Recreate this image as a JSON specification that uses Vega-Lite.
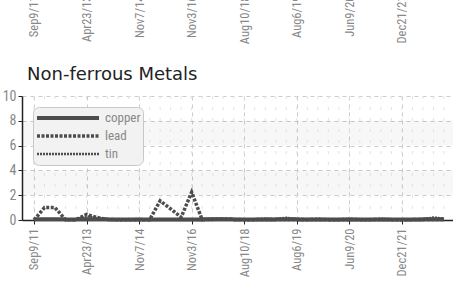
{
  "$schema": "https://vega.github.io/schema/vega-lite/v6.json",
  "padding": {"top": -18, "left": 2, "right": 0, "bottom": 0},
  "background": "white",
  "bounds": "flush",
  "spacing": 109,
  "config": {
    "view": {"stroke": null},
    "axis": {
      "labelFont": "Roboto Condensed, Liberation Sans Narrow, DejaVu Sans Condensed, sans-serif",
      "labelColor": "#888888",
      "labelFontSize": 12.5,
      "labelOverlap": false
    },
    "axisY": {"labelOverlap": false}
  },
  "datasets": {
    "prices": [
      {"date": "Sep9/11", "copper": 0.05, "lead": 0.0, "tin": 0.05},
      {"date": "Dec2/11", "copper": 0.06, "lead": 1.0, "tin": 0.08},
      {"date": "Mar5/12", "copper": 0.06, "lead": 1.0, "tin": 0.07},
      {"date": "Jul16/12", "copper": 0.05, "lead": 0.02, "tin": 0.05},
      {"date": "Nov12/12", "copper": 0.05, "lead": 0.02, "tin": 0.06},
      {"date": "Apr23/13", "copper": 0.07, "lead": 0.45, "tin": 0.3},
      {"date": "Aug5/13", "copper": 0.06, "lead": 0.2, "tin": 0.15},
      {"date": "Dec9/13", "copper": 0.05, "lead": 0.05, "tin": 0.06},
      {"date": "Apr7/14", "copper": 0.05, "lead": 0.02, "tin": 0.05},
      {"date": "Jul21/14", "copper": 0.05, "lead": 0.02, "tin": 0.06},
      {"date": "Nov7/14", "copper": 0.05, "lead": 0.02, "tin": 0.08},
      {"date": "Mar9/15", "copper": 0.05, "lead": 0.02, "tin": 0.05},
      {"date": "Jul20/15", "copper": 0.05, "lead": 1.55, "tin": 0.05},
      {"date": "Dec7/15", "copper": 0.05, "lead": 0.9, "tin": 0.05},
      {"date": "May9/16", "copper": 0.05, "lead": 0.22, "tin": 0.06},
      {"date": "Nov3/16", "copper": 0.05, "lead": 2.25, "tin": 0.05},
      {"date": "Mar20/17", "copper": 0.05, "lead": 0.02, "tin": 0.06},
      {"date": "Aug14/17", "copper": 0.06, "lead": 0.05, "tin": 0.12},
      {"date": "Dec4/17", "copper": 0.06, "lead": 0.08, "tin": 0.08},
      {"date": "Apr16/18", "copper": 0.05, "lead": 0.05, "tin": 0.06},
      {"date": "Aug10/18", "copper": 0.04, "lead": 0.03, "tin": 0.05},
      {"date": "Oct22/18", "copper": 0.04, "lead": 0.03, "tin": 0.06},
      {"date": "Jan7/19", "copper": 0.05, "lead": 0.04, "tin": 0.12},
      {"date": "Mar25/19", "copper": 0.05, "lead": 0.04, "tin": 0.08},
      {"date": "Jun3/19", "copper": 0.06, "lead": 0.05, "tin": 0.18},
      {"date": "Aug6/19", "copper": 0.05, "lead": 0.04, "tin": 0.1},
      {"date": "Oct14/19", "copper": 0.04, "lead": 0.03, "tin": 0.06},
      {"date": "Dec9/19", "copper": 0.05, "lead": 0.04, "tin": 0.1},
      {"date": "Feb10/20", "copper": 0.04, "lead": 0.03, "tin": 0.06},
      {"date": "Apr13/20", "copper": 0.04, "lead": 0.03, "tin": 0.05},
      {"date": "Jun9/20", "copper": 0.05, "lead": 0.04, "tin": 0.1},
      {"date": "Sep14/20", "copper": 0.04, "lead": 0.03, "tin": 0.06},
      {"date": "Dec7/20", "copper": 0.04, "lead": 0.03, "tin": 0.05},
      {"date": "Mar15/21", "copper": 0.05, "lead": 0.04, "tin": 0.1},
      {"date": "Aug16/21", "copper": 0.04, "lead": 0.03, "tin": 0.06},
      {"date": "Dec21/21", "copper": 0.04, "lead": 0.03, "tin": 0.05},
      {"date": "Mar7/22", "copper": 0.04, "lead": 0.03, "tin": 0.06},
      {"date": "May16/22", "copper": 0.05, "lead": 0.04, "tin": 0.08},
      {"date": "Jul18/22", "copper": 0.06, "lead": 0.05, "tin": 0.2},
      {"date": "Sep12/22", "copper": 0.05, "lead": 0.04, "tin": 0.12}
    ],
    "bands": [
      {"lo": 2, "hi": 4},
      {"lo": 6, "hi": 8}
    ]
  },
  "vconcat": [
    {
      "width": 431,
      "height": 1,
      "data": {"name": "prices"},
      "mark": {"type": "line", "color": "#4d4d4d"},
      "encoding": {
        "x": {
          "field": "date", "type": "ordinal", "sort": null,
          "scale": {"type": "point", "padding": 1, "align": 0.57},
          "axis": {
            "title": null, "labelAngle": 270, "domain": false, "ticks": false, "grid": false,
            "labelPadding": 8,
            "values": ["Sep9/11", "Apr23/13", "Nov7/14", "Nov3/16", "Aug10/18", "Aug6/19", "Jun9/20", "Dec21/21"]
          }
        },
        "y": {"field": "copper", "type": "quantitative", "axis": null}
      }
    },
    {
      "width": 431,
      "height": 124,
      "title": {
        "text": "Non-ferrous Metals", "anchor": "start", "frame": "group",
        "font": "DejaVu Sans", "fontSize": 18, "fontWeight": "normal",
        "color": "#222222", "baseline": "alphabetic", "offset": -9, "dx": 5
      },
      "layer": [
        {
          "data": {"name": "bands"},
          "mark": {"type": "rect", "fill": "#000000", "opacity": 0.03},
          "encoding": {
            "y": {"field": "lo", "type": "quantitative", "scale": {"domain": [0, 10]}, "axis": {"title": null, "values": [0, 2, 4, 6, 8, 10], "labelOverlap": false}},
            "y2": {"field": "hi"}
          }
        },
        {
          "data": {"name": "prices"},
          "mark": {"type": "rule", "stroke": "#e2e2e2", "strokeWidth": 1, "strokeDash": [3, 8]},
          "encoding": {
            "x": {"field": "date", "type": "ordinal", "sort": null}
          }
        },
        {
          "data": {"name": "prices"},
          "transform": [{"fold": ["copper", "lead", "tin"], "as": ["metal", "value"]}],
          "mark": {"type": "line", "color": "#4d4d4d", "strokeCap": "butt"},
          "encoding": {
            "x": {
              "field": "date", "type": "ordinal", "sort": null,
              "scale": {"type": "point", "padding": 1, "align": 0.57},
              "axis": {
                "title": null, "labelAngle": 270, "labelPadding": 4,
                "domainColor": "#222222", "domainWidth": 1.5,
                "tickColor": "#222222", "tickSize": 4,
                "grid": true, "gridColor": "#cccccc", "gridDash": [4, 4],
                "values": ["Sep9/11", "Apr23/13", "Nov7/14", "Nov3/16", "Aug10/18", "Aug6/19", "Jun9/20", "Dec21/21"]
              }
            },
            "y": {
              "field": "value", "type": "quantitative",
              "scale": {"domain": [0, 10]},
              "axis": {
                "title": null, "values": [0, 2, 4, 6, 8, 10],
                "labelOverlap": false,
                "labelFontSize": 14, "labelPadding": 2,
                "domainColor": "#222222", "domainWidth": 1.5,
                "tickColor": "#222222", "tickSize": 4,
                "grid": true, "gridColor": "#cccccc", "gridDash": [4, 4]
              }
            },
            "strokeDash": {
              "field": "metal", "type": "nominal",
              "scale": {"domain": ["copper", "lead", "tin"], "range": [[1, 0], [3, 1.5], [2, 1]]},
              "legend": {
                "title": null, "orient": "none", "legendX": 11, "legendY": 121,
                "symbolType": "stroke", "symbolSize": 3844, "symbolStrokeColor": "#4d4d4d",
                "clipHeight": 18, "rowPadding": 0, "padding": 2,
                "fillColor": "#f2f2f2", "strokeColor": "#c8c8c8", "cornerRadius": 6,
                "labelFont": "Roboto Condensed, Liberation Sans Narrow, DejaVu Sans Condensed, sans-serif",
                "labelFontSize": 13, "labelColor": "#888888", "labelOffset": 4
              }
            },
            "strokeWidth": {
              "field": "metal", "type": "nominal",
              "scale": {"type": "ordinal", "domain": ["copper", "lead", "tin"], "range": [4, 3.5, 2.5]},
              "legend": null
            }
          }
        }
      ]
    }
  ]
}
